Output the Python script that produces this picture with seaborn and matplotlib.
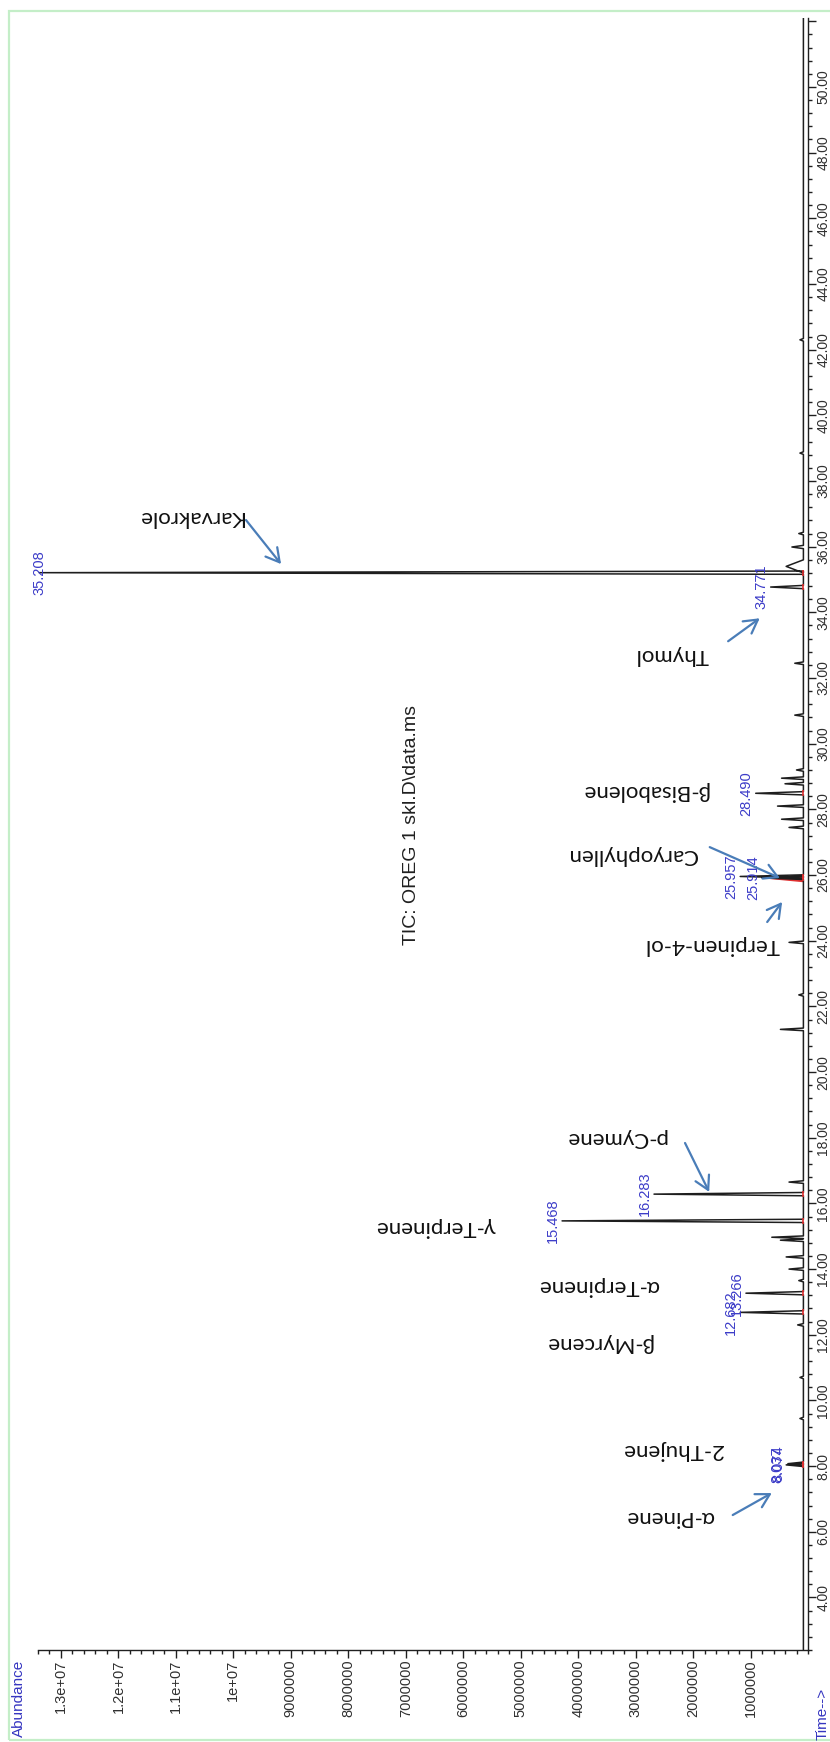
import numpy as np
import matplotlib
matplotlib.use("Agg")
import matplotlib.pyplot as plt
from matplotlib.patches import Rectangle
from matplotlib.ticker import FixedLocator, MultipleLocator
import seaborn as sns

# ---- data -------------------------------------------------------------
# integrated (labelled) peaks: retention time [min], abundance
rt_labels = ["8.037", "8.074", "12.682", "13.266", "15.468", "16.283",
             "25.914", "25.957", "28.490", "34.771", "35.208"]
rt_values = [8.037, 8.074, 12.682, 13.266, 15.468, 16.283,
             25.914, 25.957, 28.490, 34.771, 35.208]
rt_heights = [300000, 270000, 1100000, 1000000, 4200000, 2600000,
              720000, 1100000, 830000, 570000, 13300000]

# minor, unlabelled peaks of the trace
minor_times = [9.45, 10.7, 12.3, 13.65, 14.0, 14.37, 14.88, 14.97, 16.65,
               21.3, 22.35, 23.95, 27.45, 27.7, 28.1, 28.78, 28.95, 29.2,
               30.87, 32.45, 35.4, 35.99, 36.4, 38.85, 42.3]
minor_heights = [60000, 60000, 100000, 80000, 250000, 300000, 400000,
                 550000, 250000, 400000, 80000, 250000, 250000, 380000,
                 450000, 320000, 380000, 120000, 150000, 150000, 300000,
                 200000, 80000, 60000, 60000]
minor_widths = [0.04] * 20 + [0.2, 0.05, 0.04, 0.04, 0.04]

baseline = 80000
run_start, run_end = 2.4, 52.1

# compound names written next to the peaks
compounds = ["α-Pinene", "2-Thujene", "β-Myrcene", "α-Terpinene",
             "γ-Terpinene", "p-Cymene", "Terpinen-4-ol", "Caryophyllen",
             "β-Bisabolene", "Thymol", "Karvakrole"]

# axis ticks
abund_ticks = [1e6 * k for k in range(1, 14)]
abund_ticklabels = ["1000000", "2000000", "3000000", "4000000", "5000000",
                    "6000000", "7000000", "8000000", "9000000", "1e+07",
                    "1.1e+07", "1.2e+07", "1.3e+07"]
time_ticks = list(range(4, 53, 2))
time_ticklabels = [f"{t:.2f}" for t in range(4, 51, 2)] + [""]

# ---- style --------------------------------------------------------------
sns.set_theme(style="white")
plt.rcParams["font.family"] = ["Liberation Sans", "DejaVu Sans"]

W, H = 830, 1742
fig = plt.figure(figsize=(W / 100, H / 100), dpi=100)
fig.patch.set_facecolor("white")

# axes box in pixels: abundance runs right->left, time bottom->top
ax_left, ax_right, ax_top, ax_bottom = 38, 808, 18, 1650
ax = fig.add_axes([ax_left / W, 1 - ax_bottom / H,
                   (ax_right - ax_left) / W, (ax_bottom - ax_top) / H])
ax.set_facecolor("white")
ax.set_xlim(13.4e6, 0)
ax.set_ylim(run_start, run_end)

# ---- build chromatogram trace ------------------------------------------
peaks = sorted(
    [(t, h, 0.05) for t, h in zip(rt_values, rt_heights)] +
    list(zip(minor_times, minor_heights, minor_widths)))
tr_t = [run_start]
tr_a = [baseline]
for t, h, w in peaks:
    tr_t += [t - w, t, t + w]
    tr_a += [baseline, baseline + h, baseline]
tr_t.append(run_end)
tr_a.append(baseline)

# shaded integration area of the 25.914 peak
i_red = rt_labels.index("25.914")
t_r, h_r, w_r = rt_values[i_red], rt_heights[i_red], 0.12
ax.fill_betweenx([t_r - w_r, t_r, t_r + w_r], baseline,
                 [baseline, baseline + h_r, baseline],
                 color="#e03030", lw=0, zorder=2)

sns.lineplot(x=tr_a, y=tr_t, sort=False, estimator=None, ax=ax,
             color="#1e1e1e", lw=1.1, zorder=3)

# integration start/end marks at the baseline
for t in rt_values:
    ax.plot([baseline, baseline], [t - 0.09, t + 0.09], color="#e03030",
            lw=1.2, solid_capstyle="butt", zorder=4)

# retention-time labels at the peak tips
xmax = ax.get_xlim()[0]
for lbl, t, h in zip(rt_labels, rt_values, rt_heights):
    top = baseline + h
    if top > 0.9 * xmax:
        ax.annotate(lbl, xy=(top, t), xytext=(0, 0), textcoords="offset points",
                    rotation=90, ha="center", va="center", fontsize=10.5,
                    color="#3c3cc8", zorder=5, annotation_clip=False)
    else:
        ax.annotate(lbl, xy=(top, t), xytext=(-1.5, 0), textcoords="offset points",
                    rotation=90, ha="right", va="center", fontsize=10.5,
                    color="#3c3cc8", zorder=5, annotation_clip=False)

# ---- axes cosmetics ----------------------------------------------------
for side in ("left", "top"):
    ax.spines[side].set_visible(False)
for side in ("right", "bottom"):
    ax.spines[side].set_visible(True)
    ax.spines[side].set_color("#202020")
    ax.spines[side].set_linewidth(1.0)

ax.yaxis.tick_right()
ax.xaxis.tick_bottom()
ax.xaxis.set_major_locator(FixedLocator(abund_ticks))
ax.xaxis.set_minor_locator(MultipleLocator(200000))
ax.set_xticklabels(abund_ticklabels, rotation=90)
ax.yaxis.set_major_locator(FixedLocator(time_ticks))
ax.yaxis.set_minor_locator(MultipleLocator(0.4))
ax.set_yticklabels(time_ticklabels, rotation=90, va="center")
ax.tick_params(which="major", direction="out", length=5.5, width=1.0,
               color="#202020", labelsize=10.5, labelcolor="#303030", pad=1.5)
ax.tick_params(axis="y", which="major", labelsize=10, pad=0.6)
ax.tick_params(which="minor", direction="out", length=3.0, width=1.0,
               color="#202020")
ax.tick_params(axis="x", which="both", bottom=True, top=False)
ax.tick_params(axis="y", which="both", right=True, left=False)
ax.set_xlabel("")
ax.set_ylabel("")
ax.grid(False)

# ---- compound annotations (upside-down text, blue arrows) -------------
name_pos = {
    "α-Pinene": (2.40e6, 6.45), "2-Thujene": (2.35e6, 8.49),
    "β-Myrcene": (3.65e6, 11.75), "α-Terpinene": (3.65e6, 13.48),
    "γ-Terpinene": (6.49e6, 15.28), "p-Cymene": (3.34e6, 17.99),
    "Terpinen-4-ol": (1.67e6, 23.87), "Caryophyllen": (3.06e6, 26.61),
    "β-Bisabolene": (2.84e6, 28.56), "Thymol": (2.37e6, 32.70),
    "Karvakrole": (10.76e6, 36.90),
}
for name in compounds:
    x, y = name_pos[name]
    ax.text(x, y, name, rotation=180, ha="center", va="center",
            fontsize=16, color="#111111", family=["Lato", "DejaVu Sans"],
            zorder=6)

arrows = [  # (tail, head) in (abundance, time)
    ((1.31e6, 6.51), (0.63e6, 7.18)),
    ((2.14e6, 17.84), (1.72e6, 16.35)),
    ((0.71e6, 24.57), (0.45e6, 25.18)),
    ((1.71e6, 26.85), (0.49e6, 25.91)),
    ((1.39e6, 33.12), (0.84e6, 33.82)),
    ((9.78e6, 36.81), (9.17e6, 35.47)),
]
for tail, head in arrows:
    ax.annotate("", xy=head, xytext=tail,
                arrowprops=dict(arrowstyle="->,head_length=0.8,head_width=0.45",
                                color="#4a7db8", lw=1.6, shrinkA=0, shrinkB=0),
                zorder=6)

# ---- figure texts ------------------------------------------------------
fig.text(411 / W, 1 - 825 / H, r"TIC: OREG 1 skl.D\data.ms", rotation=90,
         ha="center", va="center", fontsize=14, color="#202020")
fig.text(19 / W, 1 - 1698 / H, "Abundance", rotation=90, ha="center",
         va="center", fontsize=11, color="#3535c0")
fig.text(823 / W, 1 - 1714 / H, "Time-->", rotation=90, ha="center",
         va="center", fontsize=11, color="#3535c0")

# light green frame around the plot
fig.add_artist(Rectangle((9 / W, 2 / H), 1.0, (1731 - 2) / H,
                         transform=fig.transFigure, fill=False,
                         edgecolor="#c4eec8", lw=1.6))

fig.savefig("out.png", dpi=100, facecolor="white")
